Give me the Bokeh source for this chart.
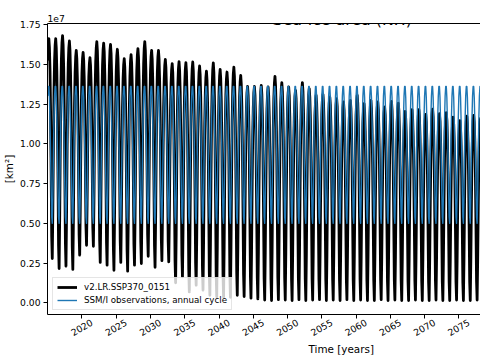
import math
from bokeh.plotting import figure
from bokeh.models import (Range1d, FixedTicker, NumeralTickFormatter, Label, Title,
                          Legend, LegendItem, LinearAxis, ColumnDataSource)
from bokeh.embed import file_html
from bokeh.resources import INLINE

# ---------------- data (sea-ice area, units of 1e7 km^2) ----------------
years = list(range(2015, 2079))

# annual maximum (March) of the model run
model_max = [1.661, 1.661, 1.680, 1.646, 1.587, 1.575, 1.541, 1.642, 1.633, 1.625,
             1.594, 1.535, 1.560, 1.598, 1.642, 1.587, 1.587, 1.531, 1.504, 1.516,
             1.510, 1.514, 1.489, 1.457, 1.508, 1.468, 1.451, 1.482, 1.430, 1.361,
             1.360, 1.367, 1.357, 1.424, 1.384, 1.357, 1.336, 1.384, 1.347, 1.305,
             1.311, 1.294, 1.284, 1.263, 1.273, 1.305, 1.252, 1.273, 1.263, 1.231,
             1.267, 1.256, 1.204, 1.215, 1.215, 1.185, 1.217, 1.190, 1.196, 1.168,
             1.146, 1.173, 1.179, 1.160]

# annual minimum (September) of the model run
model_min = [0.279, 0.216, 0.231, 0.210, 0.300, 0.362, 0.356, 0.254, 0.237, 0.205,
             0.254, 0.199, 0.237, 0.247, 0.293, 0.224, 0.265, 0.258, 0.126, 0.163,
             0.069, 0.111, 0.080, 0.048, 0.038, 0.035, 0.035, 0.048, 0.040, 0.030,
             0.025, 0.018, 0.015, 0.020, 0.018, 0.015, 0.020, 0.015, 0.018, 0.020,
             0.015, 0.018, 0.015, 0.020, 0.015, 0.018, 0.015, 0.015, 0.020, 0.015,
             0.018, 0.015, 0.015, 0.018, 0.015, 0.015, 0.018, 0.015, 0.015, 0.018,
             0.015, 0.015, 0.018, 0.015]

# position of each month within the annual range (0 = September low, 1 = March high)
month_fraction = [0.90, 0.97, 1.00, 0.96, 0.86, 0.68, 0.40, 0.10, 0.00, 0.22, 0.52, 0.76]

# SSM/I observed monthly climatology (Jan..Dec)
obs_cycle = [1.30, 1.36, 1.36, 1.29, 1.14, 0.96, 0.72, 0.54, 0.50, 0.68, 0.95, 1.16]

x_ticks = [2020, 2025, 2030, 2035, 2040, 2045, 2050, 2055, 2060, 2065, 2070, 2075]
y_ticks = [0.0, 0.25, 0.5, 0.75, 1.0, 1.25, 1.5, 1.75]

X0, X1 = 2014.97, 2078.16
Y0, Y1 = -0.073, 1.756

# ---------------- monthly series ----------------
t, model, obs = [], [], []
n = len(years)
for i, yr in enumerate(years):
    for m in range(12):
        if m < 2:
            lo = model_min[i - 1] if i > 0 else model_min[0]
            hi = model_max[i]
        elif m <= 8:
            lo, hi = model_min[i], model_max[i]
        else:
            lo = model_min[i]
            hi = model_max[i + 1] if i + 1 < n else model_max[i]
        t.append(yr + m / 12.0)
        model.append(lo + month_fraction[m] * (hi - lo))
        obs.append(obs_cycle[m])

src = ColumnDataSource(dict(t=t, model=model, obs=obs))

FONT = "DejaVu Sans"

p = figure(width=480, height=360, output_backend="svg", toolbar_location=None,
           x_range=Range1d(X0, X1), y_range=Range1d(Y0, Y1),
           min_border_left=47, min_border_right=0, min_border_top=23,
           min_border_bottom=46)
p.outline_line_color = None
p.xgrid.visible = False
p.ygrid.visible = False
p.background_fill_color = "white"
p.border_fill_color = "white"

r_model = p.line("t", "model", source=src, line_color="black", line_width=2.8,
                 line_join="round")
r_obs = p.line("t", "obs", source=src, line_color="#1f77b4", line_width=1.4,
               line_join="round")

# ---- y axis ----
ya = p.yaxis[0]
ya.ticker = FixedTicker(ticks=y_ticks)
ya.formatter = NumeralTickFormatter(format="0.00")
ya.axis_line_color = "black"
ya.major_tick_line_color = "black"
ya.major_tick_in = 0
ya.major_tick_out = 4
ya.minor_tick_line_color = None
ya.major_label_standoff = 3
ya.major_label_text_font = FONT
ya.major_label_text_font_size = "9.2px"
ya.major_label_text_color = "black"
ya.axis_label = "[km²]"
ya.axis_label_text_font = FONT
ya.axis_label_text_font_size = "10.4px"
ya.axis_label_text_font_style = "normal"
ya.axis_label_text_color = "black"
ya.axis_label_standoff = 2

# ---- x axis: tick marks at the years (drawn as minor ticks), rotated labels
#      anchored a little to the right so each label is centred under its tick ----
label_shift = 1.45  # years
lab_pos = [v + label_shift for v in x_ticks]
xa = p.xaxis[0]
xa.ticker = FixedTicker(ticks=lab_pos, minor_ticks=x_ticks)
xa.major_label_overrides = {pos: str(v) for pos, v in zip(lab_pos, x_ticks)}
xa.axis_line_color = "black"
xa.major_tick_line_color = None
xa.major_tick_in = 0
xa.major_tick_out = 4
xa.minor_tick_line_color = "black"
xa.minor_tick_line_width = 1
xa.minor_tick_in = 0
xa.minor_tick_out = 4
xa.major_label_orientation = math.radians(30)
xa.major_label_standoff = 3
xa.major_label_text_font = FONT
xa.major_label_text_font_size = "9.2px"
xa.major_label_text_color = "black"

p.add_layout(Title(text="Time [years]", align="left", offset=261,
                   text_font=FONT, text_font_size="10.4px", text_font_style="normal",
                   text_color="black", standoff=1, vertical_align="top"), "below")

# ---- top spine ----
top = LinearAxis(ticker=FixedTicker(ticks=[X0 - 10], minor_ticks=[]),
                 axis_line_color="black", axis_line_width=1,
                 major_tick_line_color=None, minor_tick_line_color=None,
                 major_tick_in=0, major_tick_out=0, major_label_standoff=0,
                 major_label_text_font_size="9.2px")
p.add_layout(top, "above")

# ---- offset text "1e7" (title slot, left aligned) ----
p.title.text = "1e7"
p.title.align = "left"
p.title.offset = 0
p.title.text_font = FONT
p.title.text_font_size = "9.2px"
p.title.text_font_style = "normal"
p.title.text_color = "black"
p.title.standoff = 3

# ---- main title ----
p.add_layout(Label(x=2057.98, y=1.779, text="Sea-ice area (NH)", text_font=FONT,
                   text_font_size="15.8px", text_color="black",
                   text_align="center", text_baseline="alphabetic"))

legend = Legend(items=[LegendItem(label="v2.LR.SSP370_0151", renderers=[r_model]),
                       LegendItem(label="SSM/I observations, annual cycle", renderers=[r_obs])],
                location=(5, 4))
legend.label_text_font = FONT
legend.label_text_font_size = "8.7px"
legend.label_text_color = "black"
legend.glyph_width = 20
legend.glyph_height = 10
legend.label_height = 10
legend.label_standoff = 7
legend.spacing = 3
legend.padding = 4
legend.margin = 0
legend.border_line_color = "#cccccc"
legend.border_line_width = 1
legend.background_fill_color = "white"
legend.background_fill_alpha = 0.8
p.add_layout(legend)

open("out.html", "w").write(file_html(p, INLINE))
